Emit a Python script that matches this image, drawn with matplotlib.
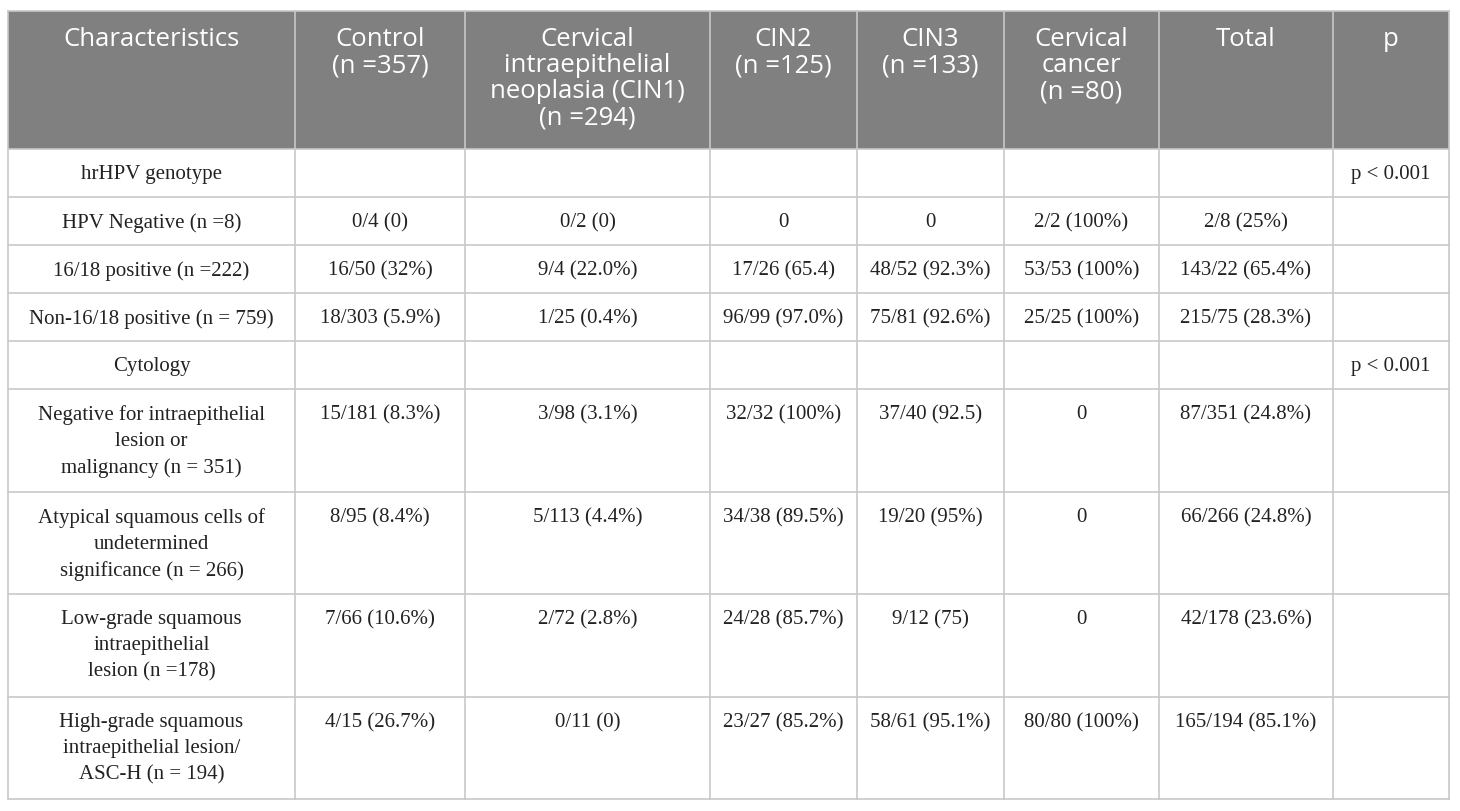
import matplotlib
matplotlib.use("Agg")
import matplotlib.pyplot as plt

# column headers and cell texts
headers = ["Characteristics", "Control\n(n =357)", "Cervical\nintraepithelial\nneoplasia (CIN1)\n(n =294)",
           "CIN2\n(n =125)", "CIN3\n(n =133)", "Cervical\ncancer\n(n =80)", "Total", "p"]

characteristics = ["hrHPV genotype", "HPV Negative (n =8)", "16/18 positive (n =222)",
                   "Non-16/18 positive (n = 759)", "Cytology",
                   "Negative for intraepithelial\nlesion or\nmalignancy (n = 351)",
                   "Atypical squamous cells of\nundetermined\nsignificance (n = 266)",
                   "Low-grade squamous\nintraepithelial\nlesion (n =178)",
                   "High-grade squamous\nintraepithelial lesion/\nASC-H (n = 194)"]

control = ["", "0/4 (0)", "16/50 (32%)", "18/303 (5.9%)", "", "15/181 (8.3%)", "8/95 (8.4%)", "7/66 (10.6%)", "4/15 (26.7%)"]
cin1 = ["", "0/2 (0)", "9/4 (22.0%)", "1/25 (0.4%)", "", "3/98 (3.1%)", "5/113 (4.4%)", "2/72 (2.8%)", "0/11 (0)"]
cin2 = ["", "0", "17/26 (65.4)", "96/99 (97.0%)", "", "32/32 (100%)", "34/38 (89.5%)", "24/28 (85.7%)", "23/27 (85.2%)"]
cin3 = ["", "0", "48/52 (92.3%)", "75/81 (92.6%)", "", "37/40 (92.5)", "19/20 (95%)", "9/12 (75)", "58/61 (95.1%)"]
cancer = ["", "2/2 (100%)", "53/53 (100%)", "25/25 (100%)", "", "0", "0", "0", "80/80 (100%)"]
total = ["", "2/8 (25%)", "143/22 (65.4%)", "215/75 (28.3%)", "", "87/351 (24.8%)", "66/266 (24.8%)", "42/178 (23.6%)", "165/194 (85.1%)"]
pvals = ["p < 0.001", "", "", "", "p < 0.001", "", "", "", ""]

columns = [characteristics, control, cin1, cin2, cin3, cancer, total, pvals]

# layout in pixels
col_edges = [8, 295, 465, 710, 857, 1004, 1159, 1333, 1449]
row_edges = [11, 149, 197, 245, 293, 341, 389, 492, 594, 697, 799]

fig = plt.figure(figsize=(14.6, 8.11), dpi=100)
ax = fig.add_axes([0, 0, 1, 1])
ax.set_xlim(0, 1460)
ax.set_ylim(811, 0)
ax.axis("off")

head_bg = "#808080"
line_clr = "#c8c8c8"

ax.fill_between([col_edges[0], col_edges[-1]], row_edges[0], row_edges[1], color=head_bg, lw=0)

for x in col_edges:
    ax.plot([x, x], [row_edges[0], row_edges[-1]], color=line_clr, lw=1.2)
for y in row_edges:
    ax.plot([col_edges[0], col_edges[-1]], [y, y], color=line_clr, lw=1.2)

for j, h in enumerate(headers):
    xc = (col_edges[j] + col_edges[j + 1]) / 2
    ax.text(xc, row_edges[0] + 16, h, ha="center", va="top", color="white",
            fontsize=18.5, family="Open Sans", linespacing=1.06)

for i in range(len(characteristics)):
    for j, col in enumerate(columns):
        txt = col[i]
        if not txt:
            continue
        xc = (col_edges[j] + col_edges[j + 1]) / 2
        ax.text(xc, row_edges[i + 1] + 16, txt, ha="center", va="top", color="#222222",
                fontsize=15, family="Liberation Serif", linespacing=1.5)

plt.savefig("out.png", dpi=100)
